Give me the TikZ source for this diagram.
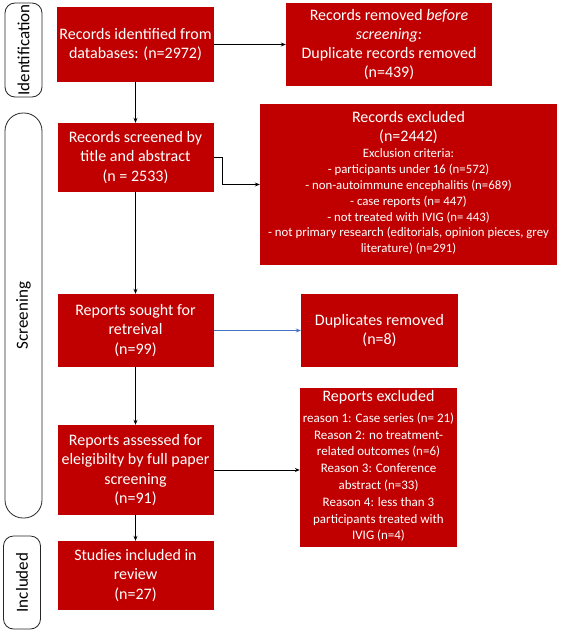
\documentclass[tikz,border=0pt]{standalone}
\usepackage{fontspec}
\setmainfont{Carlito}
\usetikzlibrary{arrows.meta}
\definecolor{boxred}{HTML}{C00000}
\definecolor{linkblue}{HTML}{4472C4}
\newcommand{\critsize}{\fontsize{12.8}{15.8}\selectfont}
\newcommand{\reasonsize}{\fontsize{13}{16.8}\selectfont}
\begin{document}
\begin{tikzpicture}[x=1pt, y=-1pt, >={Stealth[length=5pt,width=4pt]},
    redbox/.style={fill=boxred, text=white, align=center, inner sep=2pt, font=\fontsize{16}{19.2}\selectfont},
    phase/.style={draw=black!85, line width=0.8pt, fill=white, rounded corners=10pt, rotate=90, inner sep=0pt, minimum height=37pt, font=\fontsize{17}{20}\selectfont},
    flow/.style={draw=black, line width=0.8pt, ->}]
    \useasboundingbox (0,0) rectangle (560,632);
    % faze
    \node (idphase)  [phase, minimum width=94pt] at (23.5,50) {Identification};
    \node (scrphase) [phase, minimum width=405pt, rounded corners=18pt] at (23.5,315.5) {Screening};
    \node (incphase) [phase, minimum width=93pt] at (22,582.5) {Included};
    % glavni tok (lijevo)
    \node (ident)    [redbox, minimum width=156pt, minimum height=75pt] at (135.5,44.5) {Records identified from\\ databases: (n=2972)};
    \node (screened) [redbox, minimum width=156pt, minimum height=69pt] at (135.5,157.5) {Records screened by\\ title and abstract\\ (n = 2533)};
    \node (sought)   [redbox, minimum width=156pt, minimum height=73pt] at (135.5,330.5) {Reports sought for\\ retreival\\ (n=99)};
    \node (assessed) [redbox, minimum width=156pt, minimum height=90pt] at (135.5,470) {Reports assessed for\\ eleigibilty by full paper\\ screening\\ (n=91)};
    \node (included) [redbox, minimum width=156pt, minimum height=69pt] at (135.5,575.5) {Studies included in\\ review\\ (n=27)};
    % iskljuceni zapisi (desno)
    \node (removed)  [redbox, minimum width=206pt, minimum height=83pt] at (389,44.5) {Records removed \textit{before}\\ \textit{screening:}\\ Duplicate records removed\\ (n=439)};
    \node (excluded) [redbox, minimum width=297pt, minimum height=161pt] at (408.5,184.5) {Records excluded\\ (n=2442)\\[-3pt]
        \critsize\begin{tabular}[t]{@{}c@{}}Exclusion criteria:\\ - participants under 16 (n=572)\\ - non-autoimmune encephalitis (n=689)\\ - case reports (n= 447)\\ - not treated with IVIG (n= 443)\\ - not primary research (editorials, opinion pieces, grey\\ literature) (n=291)\end{tabular}};
    \node (dupl)     [redbox, minimum width=157pt, minimum height=73pt] at (379.5,330.5) {Duplicates removed\\ (n=8)};
    \node (repexcl)  [redbox, minimum width=157pt, minimum height=159pt] at (378.5,467.5) {Reports excluded\\[2pt]
        \reasonsize\begin{tabular}[t]{@{}c@{}}reason 1: Case series (n= 21)\\ Reason 2: no treatment-\\ related outcomes (n=6)\\ Reason 3: Conference\\ abstract (n=33)\\ Reason 4: less than 3\\ participants treated with\\ IVIG (n=4)\end{tabular}};
    % strelice
    \draw [flow] (ident) -- (removed);
    \draw [flow] (ident) -- (screened);
    \draw [flow] (screened.east) -- ++(9,0) |- (excluded.west);
    \draw [flow] (screened) -- (sought);
    \draw [flow, draw=linkblue] (sought) -- (dupl);
    \draw [flow] (sought) -- (assessed);
    \draw [flow] (assessed.east) -- (assessed.east -| repexcl.west);
    \draw [flow] (assessed) -- (included);
\end{tikzpicture}
\end{document}
